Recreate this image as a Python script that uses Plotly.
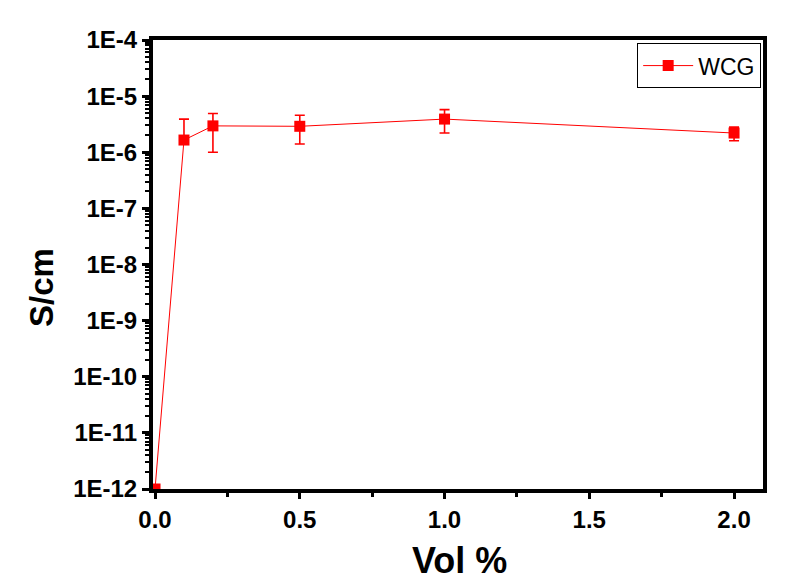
import plotly.graph_objects as go

vol = [0.0, 0.1, 0.2, 0.5, 1.0, 2.0]
cond = [1.0e-12, 1.65e-6, 2.95e-6, 2.9e-6, 3.9e-6, 2.2e-6]
err_plus = [0.0, 2.25e-6, 1.95e-6, 1.65e-6, 1.85e-6, 0.6e-6]
err_minus = [0.0, 0.0, 1.95e-6, 1.5e-6, 1.7e-6, 0.6e-6]

y_tick_vals = [1e-12, 1e-11, 1e-10, 1e-9, 1e-8, 1e-7, 1e-6, 1e-5, 1e-4]
y_tick_text = ["1E-12", "1E-11", "1E-10", "1E-9", "1E-8", "1E-7", "1E-6", "1E-5", "1E-4"]
y_minor = [m * 10.0 ** e for e in range(-12, -4) for m in range(2, 10)]

x_tick_vals = [0.0, 0.5, 1.0, 1.5, 2.0]
x_tick_text = ["0.0", "0.5", "1.0", "1.5", "2.0"]

x_title = "Vol %"
y_title = "S/cm"

FONT = "Liberation Sans, Arial, sans-serif"

fig = go.Figure()
fig.add_trace(go.Scatter(
    x=vol, y=cond, mode="lines+markers", name="WCG",
    line=dict(color="#FF0000", width=1),
    marker=dict(symbol="square", size=11, color="#FF0000"),
    error_y=dict(type="data", array=err_plus, arrayminus=err_minus, symmetric=False,
                 color="#FF0000", thickness=1.6, width=5, visible=True),
))

fig.update_layout(
    width=806, height=581,
    margin=dict(l=153, r=43, t=40, b=92),
    plot_bgcolor="white", paper_bgcolor="white",
    showlegend=True,
    legend=dict(x=0.997, y=0.993, xanchor="right", yanchor="top",
                bordercolor="black", borderwidth=1, bgcolor="white",
                font=dict(family=FONT, size=23, color="black"),
                itemwidth=50, tracegroupgap=0),
    xaxis=dict(
        range=[-0.007, 2.1], tickmode="array", tickvals=x_tick_vals, ticktext=x_tick_text,
        ticks="outside", ticklen=6, tickwidth=3, tickcolor="black",
        showline=True, linewidth=4, linecolor="black", mirror=True,
        showgrid=False, zeroline=False, automargin=False,
        tickfont=dict(family=FONT, size=24, color="black", weight="bold"),
        minor=dict(ticks="outside", ticklen=4, tickwidth=3, tickcolor="black",
                   tickmode="array", tickvals=[0.25, 0.75, 1.25, 1.75]),
    ),
    yaxis=dict(
        type="log", range=[-12, -4], tickmode="array", tickvals=y_tick_vals, ticktext=y_tick_text,
        ticks="outside", ticklen=7, tickwidth=3, tickcolor="black",
        showline=True, linewidth=4, linecolor="black", mirror=True,
        showgrid=False, zeroline=False, automargin=False,
        tickfont=dict(family=FONT, size=24, color="black", weight="bold"),
        minor=dict(ticks="outside", ticklen=4, tickwidth=2, tickcolor="black",
                   tickmode="array", tickvals=y_minor),
    ),
    annotations=[
        dict(text="<b>" + x_title + "</b>", xref="paper", yref="paper", x=0.503, y=-0.159,
             xanchor="center", yanchor="middle", showarrow=False,
             font=dict(family=FONT, size=36, color="black")),
        dict(text="<b>" + y_title + "</b>", xref="paper", yref="paper", x=-0.182, y=0.45,
             xanchor="center", yanchor="middle", showarrow=False, textangle=-90,
             font=dict(family=FONT, size=33, color="black")),
    ],
)

fig.write_html("out.html")
